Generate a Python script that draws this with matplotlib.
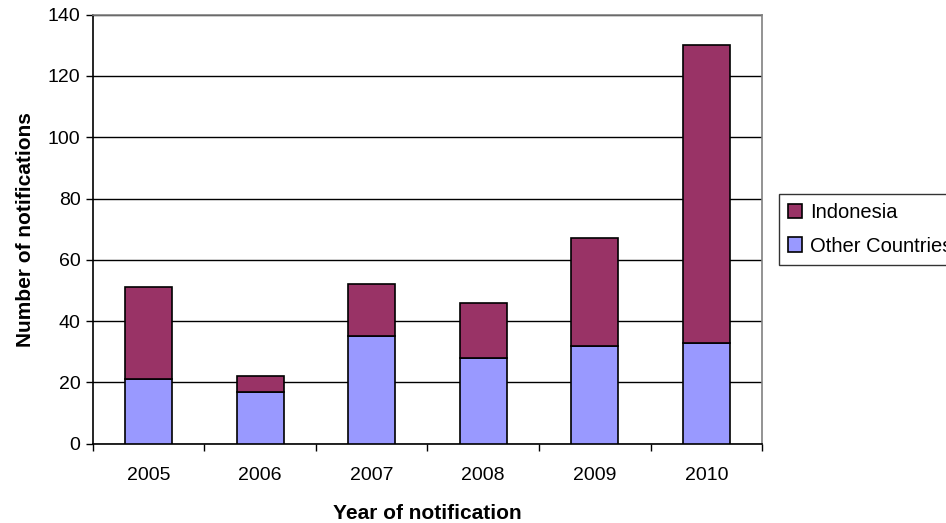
import matplotlib
matplotlib.use("Agg")
import matplotlib.pyplot as plt
import numpy as np

plt.rcParams['font.family'] = ['Liberation Sans', 'DejaVu Sans']

years = ["2005", "2006", "2007", "2008", "2009", "2010"]
other_countries = [21, 17, 35, 28, 32, 33]
indonesia = [30, 5, 17, 18, 35, 97]

fig = plt.figure(figsize=(9.46, 5.23), dpi=100)
ax = fig.add_axes([0.0983, 0.1516, 0.7072, 0.8203])

x = np.arange(len(years))
w = 0.42
b1 = ax.bar(x, other_countries, w, color="#9999FF", edgecolor="black", linewidth=1.2,
            label="Other Countries", zorder=3)
b2 = ax.bar(x, indonesia, w, bottom=other_countries, color="#993366", edgecolor="black",
            linewidth=1.2, label="Indonesia", zorder=3)

ax.set_xlim(-0.5, len(years) - 0.5)
ax.set_ylim(0, 140)
ax.set_yticks(np.arange(0, 141, 20))
ax.set_xticks(x)
ax.set_xticklabels(years)
ax.set_xticks(np.arange(-0.5, len(years) - 0.4, 1), minor=True)
ax.tick_params(axis='x', which='major', length=0, pad=17, labelsize=14)
ax.tick_params(axis='x', which='minor', length=5, width=1, direction='out', color='black')
ax.tick_params(axis='y', length=5, width=1, direction='out', labelsize=14, pad=4)

ax.yaxis.grid(True, color='black', linewidth=1, zorder=0)
for s in ['top', 'right']:
    ax.spines[s].set_color('#808080')
    ax.spines[s].set_linewidth(1.2)
for s in ['left', 'bottom']:
    ax.spines[s].set_color('black')
    ax.spines[s].set_linewidth(1.2)

ax.set_ylabel("Number of notifications", fontsize=15, fontweight='bold', labelpad=9)
ax.set_xlabel("Year of notification", fontsize=15, fontweight='bold', labelpad=14)

leg = fig.legend(handles=[b2, b1], labels=["Indonesia", "Other Countries"],
                 loc='upper left', bbox_to_anchor=(779 / 946, 1 - 194 / 523),
                 frameon=True, fancybox=False, edgecolor='black', fontsize=14.5,
                 handlelength=0.7, handleheight=0.7, handletextpad=0.4,
                 borderpad=0.45, labelspacing=0.72, borderaxespad=0)
leg.get_frame().set_linewidth(1)

fig.savefig("out.png", dpi=100)
